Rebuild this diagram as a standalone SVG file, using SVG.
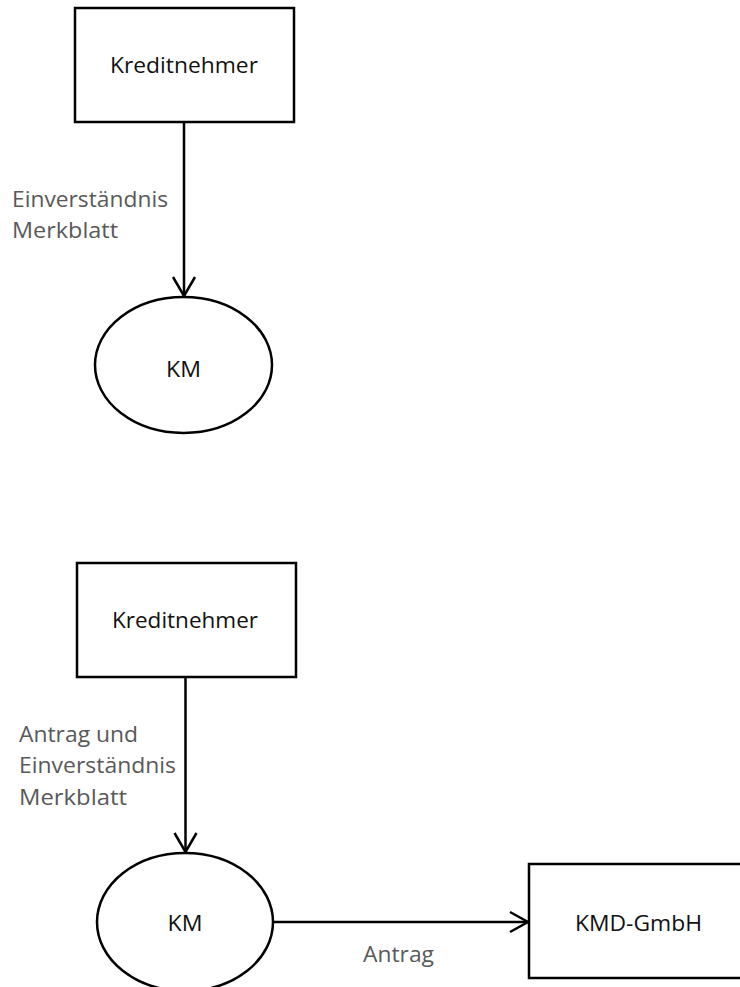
<svg xmlns="http://www.w3.org/2000/svg" width="740" height="987" viewBox="0 0 740 987">
<style>
.box{fill:#fff;stroke:#000;stroke-width:2.5}
.ell{fill:#fff;stroke:#000;stroke-width:2.5}
.edge{fill:none;stroke:#000;stroke-width:2.5}
.head{fill:none;stroke:#000;stroke-width:2.5;stroke-linejoin:miter}
.nt{font-family:"Open Sans","Liberation Sans",sans-serif;font-size:22px;fill:#111;text-anchor:middle}
.lt{font-family:"Open Sans","Liberation Sans",sans-serif;font-size:22px;fill:#595959}
</style>
<rect width="740" height="987" fill="#fff"/>
<g id="connectors">
  <g id="e1">
    <line class="edge" x1="184" y1="122" x2="184" y2="296"/>
    <polyline class="head" points="173,277 184,296 195,277"/>
    <text class="lt" x="12" y="207" textLength="156" lengthAdjust="spacingAndGlyphs">Einverständnis</text>
    <text class="lt" x="12" y="238" textLength="106" lengthAdjust="spacingAndGlyphs">Merkblatt</text>
  </g>
  <g id="e2">
    <line class="edge" x1="185.5" y1="677" x2="185.5" y2="852"/>
    <polyline class="head" points="174.5,833 185.5,852 196.5,833"/>
    <text class="lt" x="19" y="742" textLength="119" lengthAdjust="spacingAndGlyphs">Antrag und</text>
    <text class="lt" x="19" y="773" textLength="157" lengthAdjust="spacingAndGlyphs">Einverständnis</text>
    <text class="lt" x="19" y="805" textLength="108" lengthAdjust="spacingAndGlyphs">Merkblatt</text>
  </g>
  <g id="e3">
    <line class="edge" x1="273" y1="922" x2="528" y2="922"/>
    <polyline class="head" points="510,912 528,922 510,932"/>
    <text class="lt" x="363" y="962" textLength="71" lengthAdjust="spacingAndGlyphs">Antrag</text>
  </g>
</g>
<g id="n1">
  <rect class="box" x="75" y="8" width="219" height="114"/>
  <text class="nt" x="184" y="73" textLength="148" lengthAdjust="spacingAndGlyphs">Kreditnehmer</text>
</g>
<g id="n2">
  <ellipse class="ell" cx="183.5" cy="365" rx="88.5" ry="68"/>
  <text class="nt" x="183.5" y="377" textLength="35" lengthAdjust="spacingAndGlyphs">KM</text>
</g>
<g id="n3">
  <rect class="box" x="77" y="563" width="219" height="114"/>
  <text class="nt" x="185" y="628" textLength="146" lengthAdjust="spacingAndGlyphs">Kreditnehmer</text>
</g>
<g id="n4">
  <ellipse class="ell" cx="185" cy="922" rx="88" ry="69"/>
  <text class="nt" x="185" y="931" textLength="35" lengthAdjust="spacingAndGlyphs">KM</text>
</g>
<g id="n5">
  <rect class="box" x="529" y="864" width="219" height="114"/>
  <text class="nt" x="638.5" y="931" textLength="127" lengthAdjust="spacingAndGlyphs">KMD-GmbH</text>
</g>
</svg>
